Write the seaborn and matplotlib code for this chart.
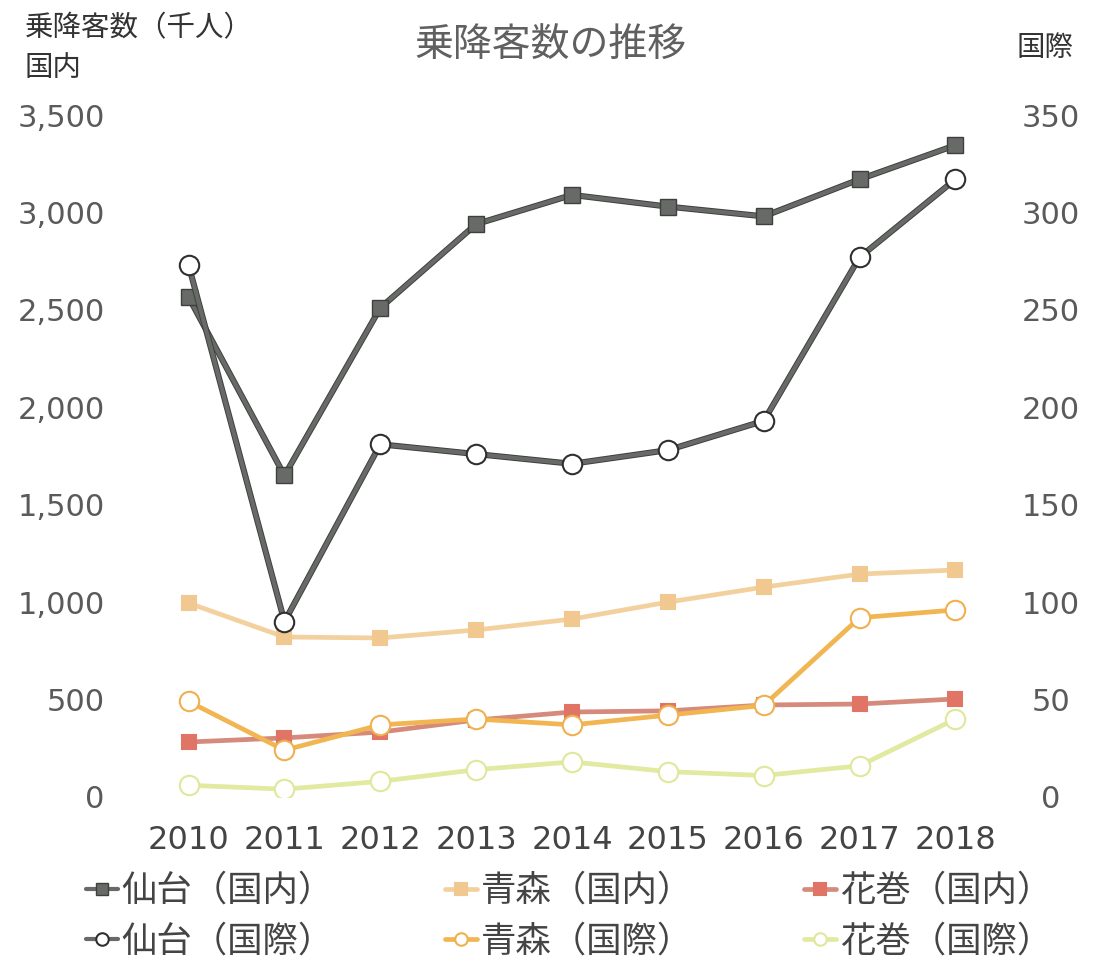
import matplotlib
matplotlib.use("Agg")
import matplotlib.pyplot as plt
import seaborn as sns
import pandas as pd

years = [2010, 2011, 2012, 2013, 2014, 2015, 2016, 2017, 2018]
sendai_dom = [2565, 1650, 2510, 2940, 3090, 3030, 2980, 3170, 3345]
aomori_dom = [995, 821, 816, 857, 913, 1000, 1077, 1144, 1165]
hanamaki_dom = [282, 303, 333, 395, 436, 442, 472, 477, 503]
sendai_intl = [273, 90, 181, 176, 171, 178, 193, 277, 317]
aomori_intl = [49, 24, 37, 40, 37, 42, 47, 92, 96]
hanamaki_intl = [6, 4, 8, 14, 18, 13, 11, 16, 40]

left_ticks = [0, 500, 1000, 1500, 2000, 2500, 3000, 3500]
right_ticks = [0, 50, 100, 150, 200, 250, 300, 350]

title = "乗降客数の推移"
ylabel_top = "乗降客数（千人）"
ylabel_left = "国内"
ylabel_right = "国際"

sns.set_theme(style="white")
plt.rcParams['font.family'] = ['DejaVu Sans', 'Noto Sans CJK JP']
CJK = ['Noto Sans CJK JP', 'DejaVu Sans']

fig = plt.figure(figsize=(10.99, 9.61), dpi=100)
fig.patch.set_facecolor('white')
ax = fig.add_axes([0.128, 0.1707, 0.785, 0.7096])
ax2 = ax.twinx()

GRAY = '#676a67'
GRAY_EDGE = '#3e403e'

def draw(axis, vals, label, color, marker, ms, lw, mfc, mec, mew=1.5, outline=None, z=2):
    df = pd.DataFrame({'year': years, 'value': vals})
    if outline is not None:
        sns.lineplot(data=df, x='year', y='value', ax=axis, color=outline,
                     linewidth=lw + 1.4, zorder=z - 0.5, legend=False)
    sns.lineplot(data=df, x='year', y='value', ax=axis, color=color,
                 linewidth=lw, marker=marker, markersize=ms,
                 markerfacecolor=mfc, markeredgecolor=mec, markeredgewidth=mew,
                 label=label, zorder=z, legend=False)
    return axis.get_lines()[-1]

h_hd = draw(ax, hanamaki_dom, "花巻（国内）", '#d58a7c', 's', 10, 3.4, '#e07565', '#e07565', z=2)
h_ad = draw(ax, aomori_dom, "青森（国内）", '#f3d19e', 's', 10, 3.4, '#f0c890', '#f0c890', z=3)
h_sd = draw(ax, sendai_dom, "仙台（国内）", GRAY, 's', 11, 3.0, GRAY, GRAY_EDGE, mew=1.0,
            outline=GRAY_EDGE, z=4)

h_hi = draw(ax2, hanamaki_intl, "花巻（国際）", '#e1eaa0', 'o', 14, 3.4, 'white', '#dfe89a', z=2)
h_ai = draw(ax2, aomori_intl, "青森（国際）", '#f1b552', 'o', 14, 3.4, 'white', '#f0b050', z=3)
h_si = draw(ax2, sendai_intl, "仙台（国際）", GRAY, 'o', 14, 3.0, 'white', '#2e302e', mew=1.5,
            outline=GRAY_EDGE, z=4)

ax.set_xlim(2009.5, 2018.5)
ax.set_ylim(0, 3500)
ax2.set_ylim(0, 350)
ax.set_xticks(years)
ax.set_xticklabels([str(y) for y in years])
ax.set_yticks(left_ticks)
ax.set_yticklabels([f"{v:,}" for v in left_ticks])
ax2.set_yticks(right_ticks)
ax2.set_yticklabels([str(v) for v in right_ticks], ha='center')
ax.set_xlabel("")
ax.set_ylabel("")
ax2.set_ylabel("")

for a in (ax, ax2):
    for s in a.spines.values():
        s.set_visible(False)
    a.grid(False)
    a.patch.set_alpha(0)

ax.tick_params(axis='x', length=0, pad=20, labelsize=23, labelcolor='#444444')
ax.tick_params(axis='y', length=0, pad=26, labelsize=22, labelcolor='#5a5a5a')
ax2.tick_params(axis='y', length=0, pad=34, labelsize=22, labelcolor='#5a5a5a')

fig.text(550 / 1099, 1 - 46 / 961, title, ha='center', va='center',
         fontsize=28, color='#606060', family=CJK)
fig.text(25 / 1099, 1 - 28 / 961, ylabel_top, ha='left', va='center',
         fontsize=20.5, color='#333333', family=CJK)
fig.text(25 / 1099, 1 - 68 / 961, ylabel_left, ha='left', va='center',
         fontsize=20.5, color='#333333', family=CJK)
fig.text(1017 / 1099, 1 - 48 / 961, ylabel_right, ha='left', va='center',
         fontsize=20.5, color='#333333', family=CJK)

handles = [h_sd, h_si, h_ad, h_ai, h_hd, h_hi]
labels = [h.get_label() for h in handles]
leg = fig.legend(handles, labels, ncol=3, loc='upper left',
                 bbox_to_anchor=(86 / 1099, 1 - 873 / 961),
                 frameon=False, prop={'family': CJK, 'size': 25.5},
                 handlelength=0.9, handletextpad=0.1, columnspacing=3.15,
                 labelspacing=0.42, borderpad=0, borderaxespad=0)
for t in leg.get_texts():
    t.set_color('#444444')
for lh in leg.legend_handles:
    lh.set_markersize(9)

fig.savefig("out.png", dpi=100, facecolor='white')
